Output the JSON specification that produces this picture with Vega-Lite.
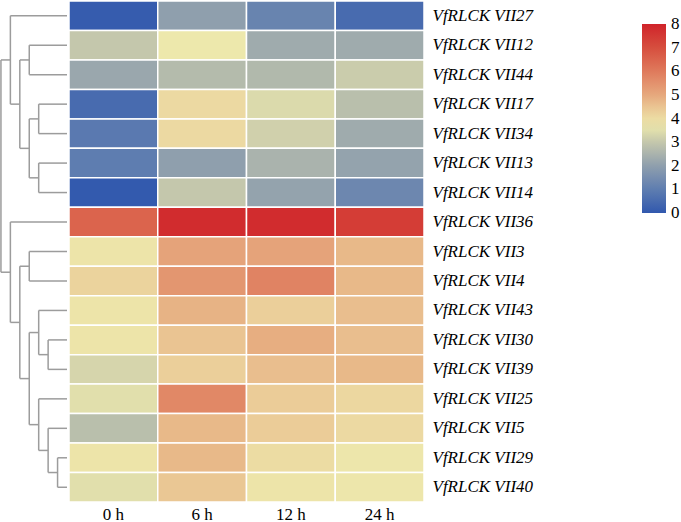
{
  "$schema": "https://vega.github.io/schema/vega-lite/v6.json",
  "padding": 0,
  "spacing": 0,
  "config": {"view": {"stroke": null}, "font": "Liberation Serif", "concat": {"spacing": 0}},
  "datasets": {
    "tree": [
      {"d1": 0, "d2": 6, "p1": 0.5, "p2": 0.5},
      {"d1": 0, "d2": 4, "p1": 1.5, "p2": 1.5},
      {"d1": 0, "d2": 4, "p1": 2.5, "p2": 2.5},
      {"d1": 0, "d2": 3, "p1": 3.5, "p2": 3.5},
      {"d1": 0, "d2": 3, "p1": 4.5, "p2": 4.5},
      {"d1": 0, "d2": 3, "p1": 5.5, "p2": 5.5},
      {"d1": 0, "d2": 3, "p1": 6.5, "p2": 6.5},
      {"d1": 0, "d2": 6, "p1": 7.5, "p2": 7.5},
      {"d1": 0, "d2": 4, "p1": 8.5, "p2": 8.5},
      {"d1": 0, "d2": 4, "p1": 9.5, "p2": 9.5},
      {"d1": 0, "d2": 3, "p1": 10.5, "p2": 10.5},
      {"d1": 0, "d2": 2, "p1": 11.5, "p2": 11.5},
      {"d1": 0, "d2": 2, "p1": 12.5, "p2": 12.5},
      {"d1": 0, "d2": 3, "p1": 13.5, "p2": 13.5},
      {"d1": 0, "d2": 2, "p1": 14.5, "p2": 14.5},
      {"d1": 0, "d2": 1, "p1": 15.5, "p2": 15.5},
      {"d1": 0, "d2": 1, "p1": 16.5, "p2": 16.5},
      {"d1": 4, "d2": 4, "p1": 1.5, "p2": 2.5},
      {"d1": 3, "d2": 3, "p1": 3.5, "p2": 4.5},
      {"d1": 3, "d2": 3, "p1": 5.5, "p2": 6.5},
      {"d1": 4, "d2": 4, "p1": 4.0, "p2": 6.0},
      {"d1": 5, "d2": 5, "p1": 2.0, "p2": 5.0},
      {"d1": 6, "d2": 6, "p1": 0.5, "p2": 3.5},
      {"d1": 4, "d2": 4, "p1": 8.5, "p2": 9.5},
      {"d1": 2, "d2": 2, "p1": 11.5, "p2": 12.5},
      {"d1": 3, "d2": 3, "p1": 10.5, "p2": 12.0},
      {"d1": 1, "d2": 1, "p1": 15.5, "p2": 16.5},
      {"d1": 2, "d2": 2, "p1": 14.5, "p2": 16.0},
      {"d1": 3, "d2": 3, "p1": 13.5, "p2": 15.25},
      {"d1": 4, "d2": 4, "p1": 11.25, "p2": 14.375},
      {"d1": 5, "d2": 5, "p1": 9.0, "p2": 12.8125},
      {"d1": 6, "d2": 6, "p1": 7.5, "p2": 10.906},
      {"d1": 7, "d2": 7, "p1": 2.0, "p2": 9.203},
      {"d1": 4, "d2": 5, "p1": 2.0, "p2": 2.0},
      {"d1": 3, "d2": 4, "p1": 4.0, "p2": 4.0},
      {"d1": 3, "d2": 4, "p1": 6.0, "p2": 6.0},
      {"d1": 4, "d2": 5, "p1": 5.0, "p2": 5.0},
      {"d1": 5, "d2": 6, "p1": 3.5, "p2": 3.5},
      {"d1": 6, "d2": 7, "p1": 2.0, "p2": 2.0},
      {"d1": 4, "d2": 5, "p1": 9.0, "p2": 9.0},
      {"d1": 2, "d2": 3, "p1": 12.0, "p2": 12.0},
      {"d1": 3, "d2": 4, "p1": 11.25, "p2": 11.25},
      {"d1": 1, "d2": 2, "p1": 16.0, "p2": 16.0},
      {"d1": 2, "d2": 3, "p1": 15.25, "p2": 15.25},
      {"d1": 3, "d2": 4, "p1": 14.375, "p2": 14.375},
      {"d1": 4, "d2": 5, "p1": 12.8125, "p2": 12.8125},
      {"d1": 5, "d2": 6, "p1": 10.906, "p2": 10.906},
      {"d1": 6, "d2": 7, "p1": 9.203, "p2": 9.203}
    ],
    "cells": [
      {"gene": "VfRLCK VII27", "time": "0 h", "value": 0.1}, {"gene": "VfRLCK VII27", "time": "6 h", "value": 2.0}, {"gene": "VfRLCK VII27", "time": "12 h", "value": 1.2}, {"gene": "VfRLCK VII27", "time": "24 h", "value": 0.5},
      {"gene": "VfRLCK VII12", "time": "0 h", "value": 3.0}, {"gene": "VfRLCK VII12", "time": "6 h", "value": 3.7}, {"gene": "VfRLCK VII12", "time": "12 h", "value": 2.3}, {"gene": "VfRLCK VII12", "time": "24 h", "value": 2.3},
      {"gene": "VfRLCK VII44", "time": "0 h", "value": 2.2}, {"gene": "VfRLCK VII44", "time": "6 h", "value": 2.7}, {"gene": "VfRLCK VII44", "time": "12 h", "value": 2.65}, {"gene": "VfRLCK VII44", "time": "24 h", "value": 3.1},
      {"gene": "VfRLCK VII17", "time": "0 h", "value": 0.5}, {"gene": "VfRLCK VII17", "time": "6 h", "value": 4.05}, {"gene": "VfRLCK VII17", "time": "12 h", "value": 3.4}, {"gene": "VfRLCK VII17", "time": "24 h", "value": 2.8},
      {"gene": "VfRLCK VII34", "time": "0 h", "value": 0.9}, {"gene": "VfRLCK VII34", "time": "6 h", "value": 4.05}, {"gene": "VfRLCK VII34", "time": "12 h", "value": 3.2}, {"gene": "VfRLCK VII34", "time": "24 h", "value": 2.3},
      {"gene": "VfRLCK VII13", "time": "0 h", "value": 1.0}, {"gene": "VfRLCK VII13", "time": "6 h", "value": 2.0}, {"gene": "VfRLCK VII13", "time": "12 h", "value": 2.5}, {"gene": "VfRLCK VII13", "time": "24 h", "value": 2.1},
      {"gene": "VfRLCK VII14", "time": "0 h", "value": 0.05}, {"gene": "VfRLCK VII14", "time": "6 h", "value": 3.0}, {"gene": "VfRLCK VII14", "time": "12 h", "value": 2.1}, {"gene": "VfRLCK VII14", "time": "24 h", "value": 1.3},
      {"gene": "VfRLCK VII36", "time": "0 h", "value": 6.5}, {"gene": "VfRLCK VII36", "time": "6 h", "value": 7.8}, {"gene": "VfRLCK VII36", "time": "12 h", "value": 7.8}, {"gene": "VfRLCK VII36", "time": "24 h", "value": 7.4},
      {"gene": "VfRLCK VII3", "time": "0 h", "value": 3.8}, {"gene": "VfRLCK VII3", "time": "6 h", "value": 5.1}, {"gene": "VfRLCK VII3", "time": "12 h", "value": 5.1}, {"gene": "VfRLCK VII3", "time": "24 h", "value": 4.7},
      {"gene": "VfRLCK VII4", "time": "0 h", "value": 4.2}, {"gene": "VfRLCK VII4", "time": "6 h", "value": 5.4}, {"gene": "VfRLCK VII4", "time": "12 h", "value": 5.8}, {"gene": "VfRLCK VII4", "time": "24 h", "value": 4.7},
      {"gene": "VfRLCK VII43", "time": "0 h", "value": 3.8}, {"gene": "VfRLCK VII43", "time": "6 h", "value": 4.8}, {"gene": "VfRLCK VII43", "time": "12 h", "value": 4.3}, {"gene": "VfRLCK VII43", "time": "24 h", "value": 4.6},
      {"gene": "VfRLCK VII30", "time": "0 h", "value": 3.8}, {"gene": "VfRLCK VII30", "time": "6 h", "value": 4.5}, {"gene": "VfRLCK VII30", "time": "12 h", "value": 4.9}, {"gene": "VfRLCK VII30", "time": "24 h", "value": 4.6},
      {"gene": "VfRLCK VII39", "time": "0 h", "value": 3.3}, {"gene": "VfRLCK VII39", "time": "6 h", "value": 4.3}, {"gene": "VfRLCK VII39", "time": "12 h", "value": 4.6}, {"gene": "VfRLCK VII39", "time": "24 h", "value": 4.7},
      {"gene": "VfRLCK VII25", "time": "0 h", "value": 3.5}, {"gene": "VfRLCK VII25", "time": "6 h", "value": 5.7}, {"gene": "VfRLCK VII25", "time": "12 h", "value": 4.35}, {"gene": "VfRLCK VII25", "time": "24 h", "value": 4.1},
      {"gene": "VfRLCK VII5", "time": "0 h", "value": 2.8}, {"gene": "VfRLCK VII5", "time": "6 h", "value": 4.7}, {"gene": "VfRLCK VII5", "time": "12 h", "value": 4.35}, {"gene": "VfRLCK VII5", "time": "24 h", "value": 4.05},
      {"gene": "VfRLCK VII29", "time": "0 h", "value": 3.8}, {"gene": "VfRLCK VII29", "time": "6 h", "value": 4.7}, {"gene": "VfRLCK VII29", "time": "12 h", "value": 4.0}, {"gene": "VfRLCK VII29", "time": "24 h", "value": 3.75},
      {"gene": "VfRLCK VII40", "time": "0 h", "value": 3.5}, {"gene": "VfRLCK VII40", "time": "6 h", "value": 4.45}, {"gene": "VfRLCK VII40", "time": "12 h", "value": 3.8}, {"gene": "VfRLCK VII40", "time": "24 h", "value": 3.75}
    ]
  },
  "hconcat": [
    {
      "width": 67,
      "height": 501,
      "data": {"name": "tree"},
      "mark": {"type": "rule", "color": "#9c9c9c", "strokeWidth": 1.5},
      "encoding": {
        "x": {"field": "d1", "type": "quantitative", "scale": {"domain": [0, 7.1], "reverse": true, "nice": false, "zero": false}, "axis": null},
        "x2": {"field": "d2"},
        "y": {"field": "p1", "type": "quantitative", "scale": {"domain": [0, 17], "reverse": true, "nice": false, "zero": false}, "axis": null},
        "y2": {"field": "p2"}
      }
    },
    {
      "width": 355,
      "height": 501,
      "data": {"name": "cells"},
      "mark": {"type": "rect", "stroke": "white", "strokeWidth": 1.5},
      "encoding": {
        "x": {"field": "time", "type": "ordinal", "sort": ["0 h", "6 h", "12 h", "24 h"], "scale": {"paddingInner": 0, "paddingOuter": 0},
          "axis": {"orient": "bottom", "title": null, "ticks": false, "domain": false, "labelAngle": 0, "labelFont": "Liberation Serif", "labelFontSize": 17, "labelColor": "black", "labelPadding": 4}},
        "y": {"field": "gene", "type": "ordinal", "sort": ["VfRLCK VII27", "VfRLCK VII12", "VfRLCK VII44", "VfRLCK VII17", "VfRLCK VII34", "VfRLCK VII13", "VfRLCK VII14", "VfRLCK VII36", "VfRLCK VII3", "VfRLCK VII4", "VfRLCK VII43", "VfRLCK VII30", "VfRLCK VII39", "VfRLCK VII25", "VfRLCK VII5", "VfRLCK VII29", "VfRLCK VII40"],
          "scale": {"paddingInner": 0, "paddingOuter": 0},
          "axis": {"orient": "right", "title": null, "ticks": false, "domain": false, "labelFont": "Liberation Serif", "labelFontStyle": "italic", "labelFontSize": 17, "labelColor": "black", "labelPadding": 8}},
        "color": {"field": "value", "type": "quantitative",
          "scale": {"domain": [0, 1, 2, 3, 3.7, 4.3, 5, 6, 7, 8], "range": ["#3158ae", "#5e7db0", "#8f9fad", "#c4c7ac", "#ede8ac", "#ebcf9a", "#e6a87d", "#df7a5c", "#d64e3e", "#d0232a"], "interpolate": "rgb"},
          "legend": {"orient": "none", "legendX": 642, "legendY": 23, "title": null, "direction": "vertical", "gradientLength": 189, "gradientThickness": 24, "values": [0, 1, 2, 3, 4, 5, 6, 7, 8], "labelOverlap": false, "labelFont": "Liberation Serif", "labelFontSize": 17, "labelColor": "black", "labelOffset": 5,
            "encode": {"labels": {"update": {"baseline": {"value": "middle"}}}}}}
      }
    }
  ]
}
